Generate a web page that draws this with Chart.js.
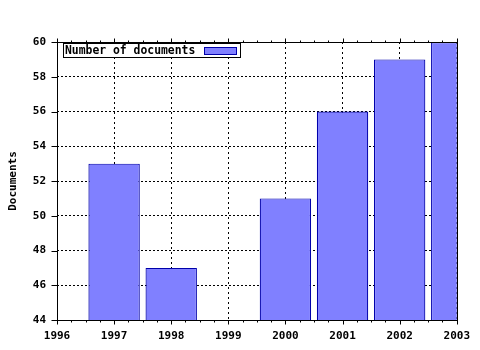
<!DOCTYPE html>
<html>
<head>
<meta charset="utf-8">
<script src="https://cdn.jsdelivr.net/npm/chart.js@4/dist/chart.umd.min.js"></script>
<style>
  html, body { margin: 0; padding: 0; background: #fff; }
  #wrap { width: 480px; height: 350px; }
</style>
</head>
<body>
<div id="wrap"><canvas id="chart" width="480" height="350"></canvas></div>
<script>
// data
const years = [1997, 1998, 1999, 2000, 2001, 2002, 2003];
const documents = [53, 47, null, 51, 56, 59, 60];
const seriesLabel = 'Number of documents';
const yTitle = 'Documents';

const FONT = 'DejaVu Sans Mono';
Chart.defaults.font.family = FONT;
Chart.defaults.font.size = 11;
Chart.defaults.font.weight = 'bold';
Chart.defaults.color = '#000';

// frame, tick marks and the boxed legend inside the plot
const framePlugin = {
  id: 'frame',
  afterDraw(chart) {
    const ctx = chart.ctx;
    const a = chart.chartArea;
    const x = chart.scales.x;
    const y = chart.scales.y;
    const L = Math.round(a.left) + 0.5, R = Math.round(a.right) + 0.5;
    const T = Math.round(a.top) + 0.5, B = Math.round(a.bottom) + 0.5;
    ctx.save();
    ctx.strokeStyle = '#000';
    ctx.lineWidth = 1;
    ctx.setLineDash([]);
    ctx.strokeRect(L, T, R - L, B - T);

    ctx.beginPath();
    for (let v = x.min; v <= x.max + 1e-9; v += 0.25) {
      const px = Math.round(x.getPixelForValue(v)) + 0.5;
      const major = Math.abs(v - Math.round(v)) < 1e-9;
      const len = major ? 4 : 2;
      ctx.moveTo(px, B); ctx.lineTo(px, B + len);
      ctx.moveTo(px, T); ctx.lineTo(px, T - len);
    }
    for (let v = y.min; v <= y.max; v += 2) {
      const py = Math.round(y.getPixelForValue(v)) + 0.5;
      ctx.moveTo(L, py); ctx.lineTo(L - 6, py);
    }
    ctx.stroke();

    // legend
    const ds = chart.data.datasets[0];
    ctx.fillStyle = '#fff';
    ctx.fillRect(63.5, 43.5, 177, 14);
    ctx.strokeRect(63.5, 43.5, 177, 14);
    ctx.fillStyle = '#000';
    ctx.font = 'bold 11.4px "' + FONT + '"';
    ctx.textBaseline = 'middle';
    ctx.textAlign = 'left';
    ctx.fillText(ds.label, 65, 51);
    ctx.fillStyle = ds.backgroundColor;
    ctx.fillRect(204.5, 47.5, 32, 7);
    ctx.strokeStyle = ds.borderColor;
    ctx.strokeRect(204.5, 47.5, 32, 7);
    ctx.restore();
  }
};

new Chart(document.getElementById('chart').getContext('2d'), {
  type: 'bar',
  data: {
    datasets: [{
      label: seriesLabel,
      data: years.map((yr, i) => ({ x: yr, y: documents[i] })),
      backgroundColor: '#8080ff',
      borderColor: '#0000aa',
      borderWidth: 1.2,
      borderSkipped: false,
      barPercentage: 0.9,
      categoryPercentage: 1.0
    }]
  },
  options: {
    responsive: false,
    animation: false,
    layout: { padding: { top: 42, right: 21, left: 0, bottom: 0 } },
    plugins: { legend: { display: false }, tooltip: { enabled: false } },
    scales: {
      x: {
        type: 'linear',
        min: 1996,
        max: 2003,
        offset: false,
        afterFit: s => { s.height = 30; },
        ticks: { stepSize: 1, padding: 10, maxRotation: 0, callback: v => String(v) },
        grid: { offset: false, drawTicks: false, color: '#000' },
        border: { display: false, dash: [2, 3] }
      },
      y: {
        min: 44,
        max: 60,
        afterFit: s => { s.width = 57; },
        ticks: { stepSize: 2, padding: 11 },
        grid: { drawTicks: false, color: '#000' },
        border: { display: false, dash: [2, 2] },
        title: { display: true, text: yTitle, padding: { top: 7, bottom: 0 } }
      }
    }
  },
  plugins: [framePlugin]
});
</script>
</body>
</html>
